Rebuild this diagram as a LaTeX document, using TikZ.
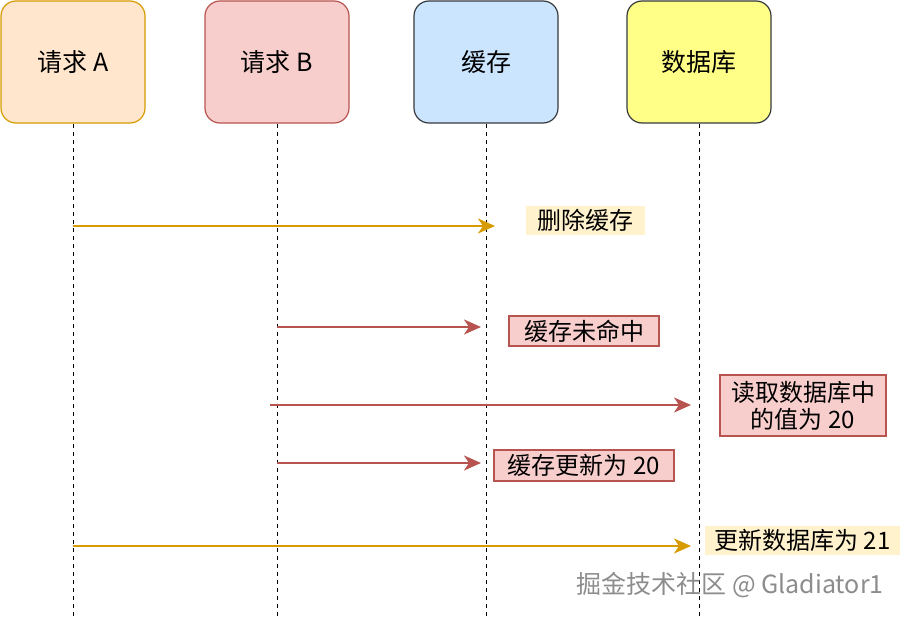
\documentclass[tikz,border=0pt]{standalone}
\usepackage{fontspec}
\setmainfont{Noto Sans CJK SC}
\usepackage{xcolor}
\usepackage{tikz}
\usetikzlibrary{arrows.meta,calc}
\definecolor{reqAfill}{HTML}{FFE6CC}
\definecolor{reqAline}{HTML}{D79B00}
\definecolor{reqBfill}{HTML}{F8CECC}
\definecolor{reqBline}{HTML}{B85450}
\definecolor{cachefill}{HTML}{CCE5FF}
\definecolor{dbfill}{HTML}{FFFF88}
\definecolor{darkline}{HTML}{36393D}
\definecolor{notefill}{HTML}{FFF2CC}
\pgfkeys{tikz/myactor/.style={draw,rounded corners=15pt,line width=1.2pt,minimum width=144pt,minimum height=122pt,font=\fontsize{25}{29}\selectfont}}
\pgfkeys{tikz/mylifeline/.style={draw=black,line width=1pt,dash pattern=on 4pt off 4pt}}
\pgfkeys{tikz/mymsg/.style={line width=2.4pt,-{Stealth[length=17pt,width=15pt,inset=5pt]}}}
\pgfkeys{tikz/mynote/.style={inner sep=0pt,font=\fontsize{24}{27}\selectfont,align=center}}
\newcommand*\mylifeline[1]{
    \draw[mylifeline] (#1.south) -- (#1.south |- 0,618);
}
\begin{document}
\begin{tikzpicture}[x=1pt,y=-1pt]
    \useasboundingbox (0,0) rectangle (903,618);
    % actors
    \node[myactor,draw=reqAline,fill=reqAfill] (reqA) at (73,62) {请求 A};
    \node[myactor,draw=reqBline,fill=reqBfill] (reqB) at (277,62) {请求 B};
    \node[myactor,draw=darkline,fill=cachefill] (cache) at (486,62) {缓存};
    \node[myactor,draw=darkline,fill=dbfill] (db) at (699,62) {数据库};
    \mylifeline{reqA}
    \mylifeline{reqB}
    \mylifeline{cache}
    \mylifeline{db}
    % messages
    \draw[mymsg,reqAline] (reqA |- 0,226) -- ($(cache |- 0,226)+(9,0)$);
    \draw[mymsg,reqBline] (reqB |- 0,327) -- ($(cache |- 0,327)+(-5,0)$);
    \draw[mymsg,reqBline] ($(reqB |- 0,405)+(-7,0)$) -- ($(db |- 0,405)+(-8,0)$);
    \draw[mymsg,reqBline] (reqB |- 0,463) -- ($(cache |- 0,463)+(-5,0)$);
    \draw[mymsg,reqAline] (reqA |- 0,546) -- ($(db |- 0,546)+(-8,0)$);
    % notes
    \node[mynote,fill=notefill,minimum width=119pt,minimum height=29pt] (delcache) at (585.5,220.5) {删除缓存};
    \node[mynote,fill=reqBfill,draw=reqBline,line width=1.2pt,minimum width=150pt,minimum height=30pt] (miss) at (584,331) {缓存未命中};
    \node[mynote,fill=reqBfill,draw=reqBline,line width=1.2pt,minimum width=166pt,minimum height=61pt] (readdb) at (803,405.5) {读取数据库中\\的值为 20};
    \node[mynote,fill=reqBfill,draw=reqBline,line width=1.2pt,minimum width=180pt,minimum height=31pt] (setcache) at (584,465.5) {缓存更新为 20};
    \node[mynote,fill=notefill,minimum width=195pt,minimum height=29pt] (setdb) at (802.5,540.5) {更新数据库为 21};
    % watermark
    \node[font=\fontsize{25}{29}\selectfont,text=black!45] (mark) at (730,585) {掘金技术社区 @ Gladiator1};
\end{tikzpicture}
\end{document}
